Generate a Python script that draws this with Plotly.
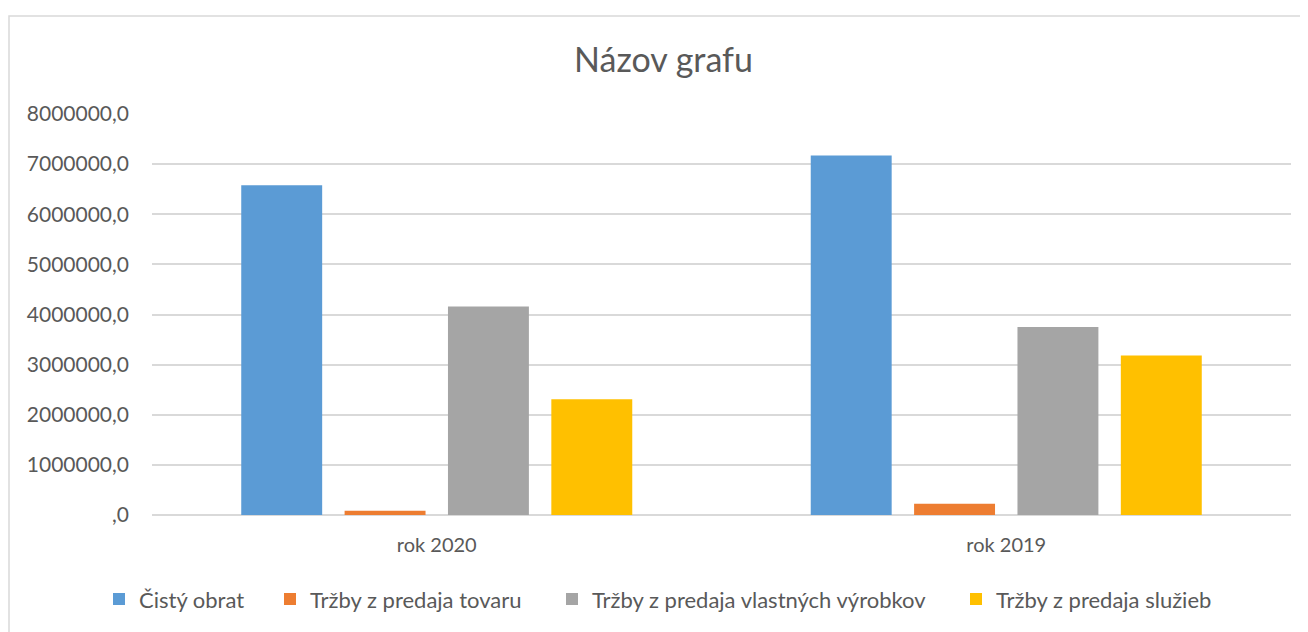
import plotly.graph_objects as go

categories = ["rok 2020", "rok 2019"]
series_names = ["Čistý obrat", "Tržby z predaja tovaru",
                "Tržby z predaja vlastných výrobkov", "Tržby z predaja služieb"]
cisty_obrat = [6580000, 7170000]
trzby_tovar = [87000, 225000]
trzby_vyrobky = [4160000, 3750000]
trzby_sluzby = [2310000, 3180000]
colors = ["#5B9BD5", "#ED7D31", "#A5A5A5", "#FFC000"]
tick_vals = [0, 1000000, 2000000, 3000000, 4000000, 5000000, 6000000, 7000000, 8000000]
tick_text = [",0", "1000000,0", "2000000,0", "3000000,0", "4000000,0",
             "5000000,0", "6000000,0", "7000000,0", "8000000,0"]

FONT = "Lato"
TXT = "#595959"

# figure sits in the page at a body margin
OFFX, OFFY = 8, 6
W, H = 1300, 624
L, T = 152 - OFFX, 112 - OFFY
R = W - (1291 - OFFX)
B = H - (517 - OFFY)
pw, ph = W - L - R, H - T - B


def px_x(p):  # page pixel -> paper x
    return (p - OFFX - L) / pw


def px_y(p):  # page pixel -> paper y
    return (T + ph - (p - OFFY)) / ph


legend_names = ["legend", "legend2", "legend3", "legend4"]
text_starts = [139, 310, 592, 996]

fig = go.Figure()
for name, vals, col, lg in zip(series_names,
                               [cisty_obrat, trzby_tovar, trzby_vyrobky, trzby_sluzby],
                               colors, legend_names):
    fig.add_trace(go.Bar(x=categories, y=vals, name=name, marker_color=col,
                         marker_line_width=0, legend=lg))

layout_legends = {}
for lg, ts in zip(legend_names, text_starts):
    layout_legends[lg] = dict(orientation="h", x=px_x(ts - 40), xanchor="left",
                              y=px_y(602), yanchor="middle",
                              font=dict(size=22, color=TXT, family=FONT),
                              bgcolor="rgba(0,0,0,0)", borderwidth=0)

fig.update_layout(
    width=W, height=H,
    margin=dict(l=L, r=R, t=T, b=B),
    paper_bgcolor="white", plot_bgcolor="white",
    font=dict(family=FONT, color=TXT, size=20),
    title=dict(text="Názov grafu", x=0.5 + 5.5 / W, xanchor="center", y=1 - (58 - OFFY) / H,
               yanchor="middle", font=dict(size=34, color=TXT, family=FONT)),
    barmode="group", bargap=0.274, bargroupgap=0.217,
    showlegend=True,
    xaxis=dict(showgrid=False, showline=False, ticks="", ticklabelstandoff=16,
               tickfont=dict(size=20, color=TXT)),
    yaxis=dict(range=[0, 8000000], tickvals=tick_vals, ticktext=tick_text,
               showgrid=True, gridcolor="#D9D9D9", gridwidth=1.5, zeroline=True,
               zerolinecolor="#D9D9D9", zerolinewidth=1.5, showline=False, ticks="",
               ticklabelstandoff=22, tickfont=dict(size=21, color=TXT)),
    **layout_legends,
)

fig.add_shape(type="rect", xref="paper", yref="paper",
              x0=px_x(9), x1=px_x(1330),
              y0=px_y(660), y1=px_y(13),
              line=dict(color="#D9D9D9", width=1.5), fillcolor="rgba(0,0,0,0)", layer="below")

fig.write_html("out.html")
